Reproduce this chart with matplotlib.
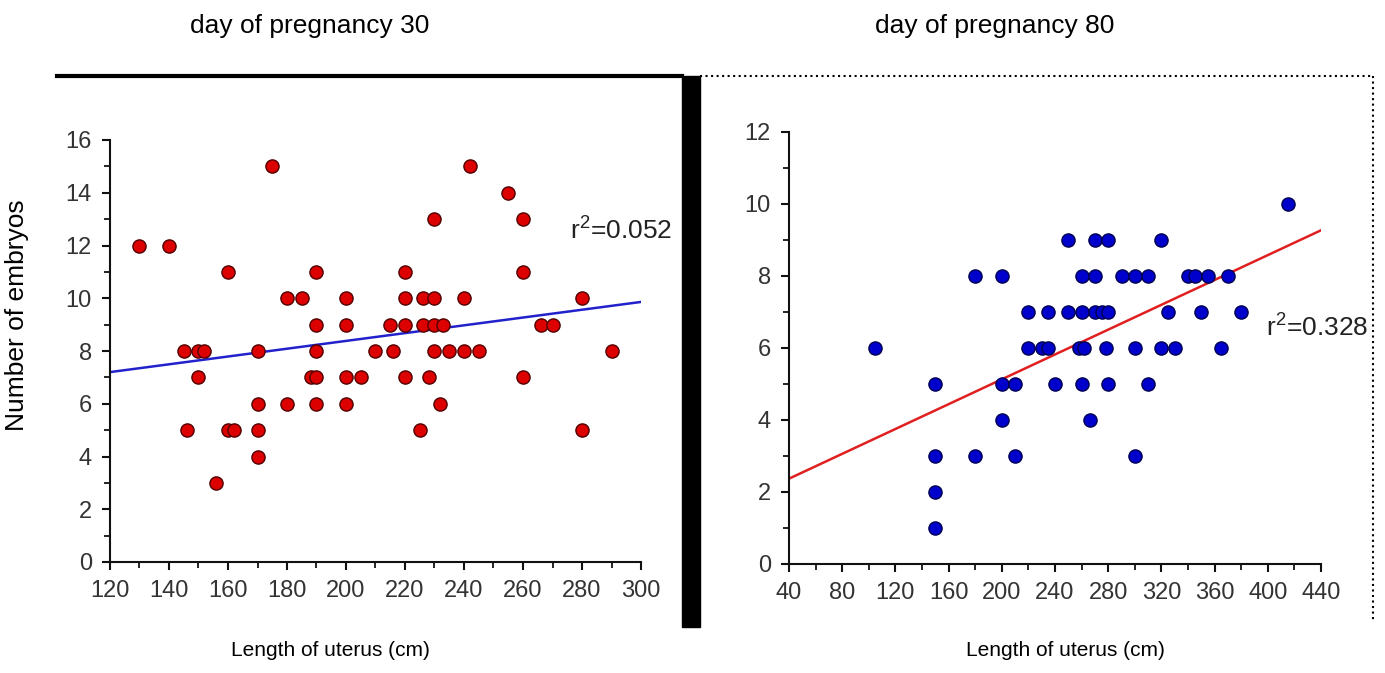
import numpy as np
import matplotlib
matplotlib.use('Agg')
import matplotlib.pyplot as plt
from matplotlib.lines import Line2D
from matplotlib.patches import Rectangle
from matplotlib.ticker import MultipleLocator

# ── data ──────────────────────────────────────────────
# day 30 : length of uterus (cm) vs number of embryos
d30_len = [130, 140, 160, 175, 180, 185, 190, 200, 190, 200,
           145, 150, 152, 170, 190, 210, 150, 188, 190, 200,
           205, 170, 180, 190, 200, 146, 160, 162, 170, 170,
           156, 242, 255, 230, 260, 220, 260, 220, 226, 230,
           240, 280, 215, 220, 226, 230, 233, 266, 270, 216,
           230, 235, 240, 245, 290, 220, 228, 260, 232, 225, 280]
d30_emb = [12, 12, 11, 15, 10, 10, 11, 10, 9, 9,
           8, 8, 8, 8, 8, 8, 7, 7, 7, 7,
           7, 6, 6, 6, 6, 5, 5, 5, 5, 4,
           3, 15, 14, 13, 13, 11, 11, 10, 10, 10,
           10, 10, 9, 9, 9, 9, 9, 9, 9, 8,
           8, 8, 8, 8, 8, 7, 7, 7, 6, 5, 5]
d30_fit_x = [120, 300]
d30_fit_y = [7.2, 9.86]
d30_r2 = "0.052"

# day 80
d80_len = [105, 180, 200, 220, 235, 220, 230, 235,
           150, 200, 210, 240, 200, 150, 180, 210, 150, 150,
           415, 250, 270, 280, 320,
           260, 270, 290, 300, 310, 340, 345, 355, 370,
           250, 260, 270, 275, 280, 325, 350, 380,
           258, 262, 278, 300, 320, 330, 365,
           260, 280, 310, 266, 300]
d80_emb = [6, 8, 8, 7, 7, 6, 6, 6,
           5, 5, 5, 5, 4, 3, 3, 3, 2, 1,
           10, 9, 9, 9, 9,
           8, 8, 8, 8, 8, 8, 8, 8, 8,
           7, 7, 7, 7, 7, 7, 7, 7,
           6, 6, 6, 6, 6, 6, 6,
           5, 5, 5, 4, 3]
d80_fit_x = [40, 440]
d80_fit_y = [2.37, 9.27]
d80_r2 = "0.328"

W, H = 1385, 673
fig = plt.figure(figsize=(W / 100, H / 100), dpi=100, facecolor='white')

FONT = ['Liberation Sans', 'DejaVu Sans']
plt.rcParams['mathtext.fontset'] = 'custom'
plt.rcParams['mathtext.rm'] = 'Liberation Sans'


def px_axes(x0, x1, y_top, y_bot):
    # axes placed by pixel edges of the reference
    return fig.add_axes([x0 / W, 1 - y_bot / H, (x1 - x0) / W, (y_bot - y_top) / H])


def style(ax):
    for s in ['top', 'right']:
        ax.spines[s].set_visible(False)
    for s in ['left', 'bottom']:
        ax.spines[s].set_linewidth(1.5)
        ax.spines[s].set_color('#111')
    ax.tick_params(which='major', direction='out', length=6, width=1.5, pad=7,
                   labelsize=17, colors='#111')
    ax.tick_params(which='minor', direction='out', length=4, width=1.2)
    for lb in ax.get_xticklabels() + ax.get_yticklabels():
        lb.set_family(FONT)
        lb.set_color('#333')


# ── left panel (day 30) ───────────────────────────────
ax1 = px_axes(110, 641, 140, 562)
ax1.scatter(d30_len, d30_emb, s=90, color='#dd0000', edgecolor='#500000',
            linewidth=1.0, zorder=3)
ax1.plot(d30_fit_x, d30_fit_y, color='#2222cc', lw=1.8, zorder=2)
ax1.set_xlim(120, 300)
ax1.set_ylim(0, 16)
ax1.xaxis.set_major_locator(MultipleLocator(20))
ax1.xaxis.set_minor_locator(MultipleLocator(10))
ax1.yaxis.set_major_locator(MultipleLocator(2))
ax1.yaxis.set_minor_locator(MultipleLocator(1))
style(ax1)
ax1.text(276, 12.6, r'r$^\mathrm{2}$=' + d30_r2, fontsize=19, family=FONT,
         va='center', ha='left', color='#222', clip_on=False)

# ── right panel (day 80) ──────────────────────────────
ax2 = px_axes(789, 1321, 132, 564)
ax2.scatter(d80_len, d80_emb, s=90, color='#0000cc', edgecolor='#000050',
            linewidth=1.0, zorder=3)
ax2.plot(d80_fit_x, d80_fit_y, color='#e02020', lw=1.8, zorder=2)
ax2.set_xlim(40, 440)
ax2.set_ylim(0, 12)
ax2.xaxis.set_major_locator(MultipleLocator(40))
ax2.xaxis.set_minor_locator(MultipleLocator(20))
ax2.yaxis.set_major_locator(MultipleLocator(2))
ax2.yaxis.set_minor_locator(MultipleLocator(1))
style(ax2)
ax2.text(399, 6.6, r'r$^\mathrm{2}$=' + d80_r2, fontsize=19, family=FONT,
         va='center', ha='left', color='#222', clip_on=False)

# ── frame pieces ──────────────────────────────────────
fig.add_artist(Line2D([57 / W, 682 / W], [1 - 76 / H, 1 - 76 / H],
                      color='black', lw=3))
fig.add_artist(Rectangle((682 / W, 1 - 627 / H), 18 / W, (627 - 76) / H,
                         color='black', transform=fig.transFigure))
fig.add_artist(Line2D([700 / W, 1373 / W], [1 - 76 / H, 1 - 76 / H],
                      color='black', lw=1.5, ls=':'))
fig.add_artist(Line2D([1373 / W, 1373 / W], [1 - 76 / H, 1 - 620 / H],
                      color='black', lw=1.5, ls=':'))

# ── outer texts ───────────────────────────────────────
fig.text(310 / W, 1 - 26 / H, 'day of pregnancy 30', ha='center', va='center',
         fontsize=19, family=FONT)
fig.text(995 / W, 1 - 26 / H, 'day of pregnancy 80', ha='center', va='center',
         fontsize=19, family=FONT)
fig.text(330 / W, 1 - 650 / H, 'Length of uterus (cm)', ha='center', va='center',
         fontsize=15, family=FONT)
fig.text(1065 / W, 1 - 650 / H, 'Length of uterus (cm)', ha='center', va='center',
         fontsize=15, family=FONT)
fig.text(17 / W, 1 - 315 / H, 'Number of embryos', ha='center', va='center',
         rotation=90, fontsize=19, family=FONT)

fig.savefig('out.png', dpi=100, facecolor='white')
